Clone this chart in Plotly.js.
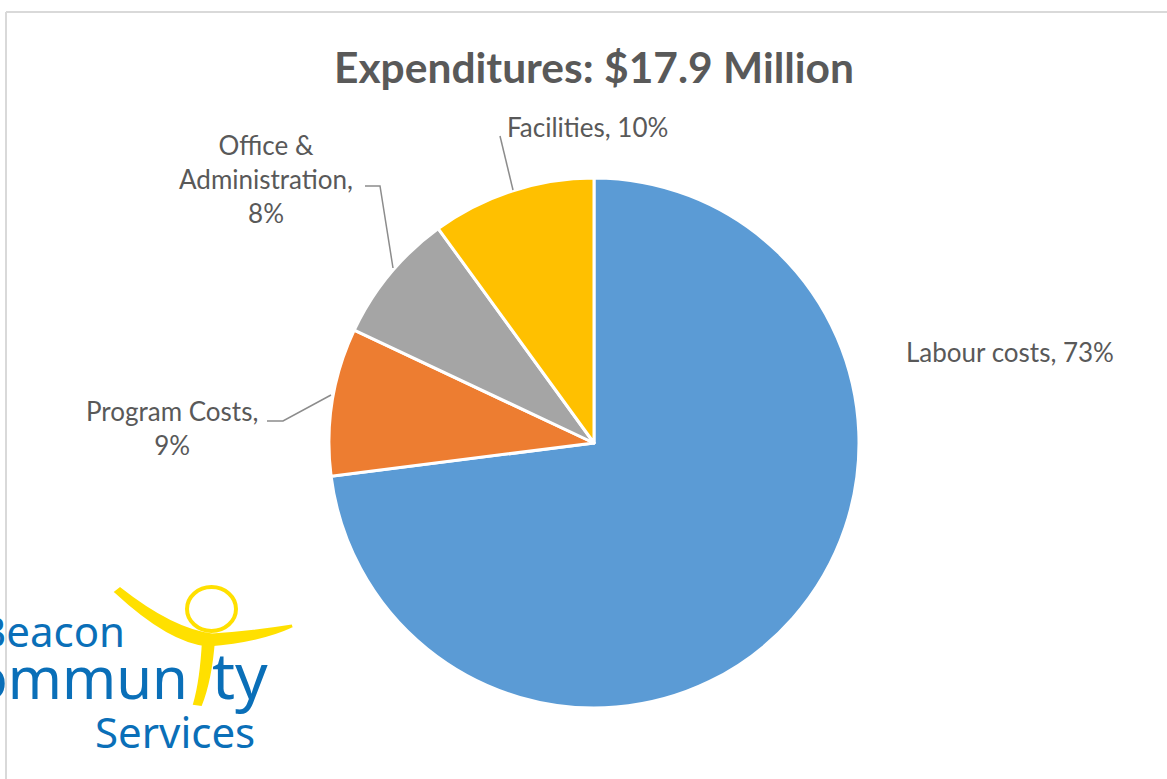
<!DOCTYPE html>
<html>
<head>
<meta charset="utf-8">
<script src="https://cdn.plot.ly/plotly-3.0.1.min.js"></script>
<style>html,body{margin:0;padding:0;background:#fff;}#chart{width:1167px;height:779px;}</style>
</head>
<body>
<div id="chart"></div>
<script>
// Data
const categories = ["Labour costs", "Program Costs", "Office & Administration", "Facilities"];
const shares = [73, 9, 8, 10];
const sliceColors = ["#5B9BD5", "#ED7D31", "#A5A5A5", "#FFC000"];
const labelTexts = ["Labour costs, 73%", "Program Costs,<br>9%", "Office &<br>Administration,<br>8%", "Facilities, 10%"];
const chartTitle = "Expenditures: $17.9 Million";

const W = 1167, H = 779;
const cx = 594, cy = 443, r = 265;
const fx = v => v / W;
const fy = v => 1 - v / H;

const labelFont = {family: "Lato, 'Open Sans', sans-serif", size: 26, color: "#595959"};
const logoBlue = "#0A6FB8";
const logoYellow = "#FFE000";

const trace = {
  type: "pie",
  labels: categories,
  values: shares,
  sort: false,
  direction: "clockwise",
  rotation: 0,
  textinfo: "none",
  hoverinfo: "label+percent",
  marker: {colors: sliceColors, line: {color: "#ffffff", width: 3}},
  domain: {x: [fx(cx - r), fx(cx + r)], y: [fy(cy + r), fy(cy - r)]},
  showlegend: false
};

// label placement (pixel positions)
const labelPos = [
  {x: 1010, y: 352},
  {x: 172, y: 428},
  {x: 266, y: 179},
  {x: 587, y: 127}
];

const annotations = categories.map((c, i) => ({
  xref: "x", yref: "y", x: labelPos[i].x, y: labelPos[i].y,
  text: labelTexts[i], showarrow: false, font: labelFont,
  align: "center", xanchor: "center", yanchor: "middle"
}));

// Logo text
const logoFont = "'Noto Sans', 'Open Sans', sans-serif";
annotations.push(
  {xref: "x", yref: "y", x: 127, y: 630, text: "Beacon", showarrow: false, xanchor: "right", yanchor: "middle",
   font: {family: logoFont, size: 42, color: logoBlue}},
  {xref: "x", yref: "y", x: 190, y: 676, text: "Commun", showarrow: false, xanchor: "right", yanchor: "middle",
   font: {family: logoFont, size: 58, color: logoBlue}},
  {xref: "x", yref: "y", x: 210, y: 674, text: "ty", showarrow: false, xanchor: "left", yanchor: "middle",
   font: {family: logoFont, size: 64, color: logoBlue}},
  {xref: "x", yref: "y", x: 175, y: 731, text: "Services", showarrow: false, xanchor: "center", yanchor: "middle",
   font: {family: logoFont, size: 42, color: logoBlue}}
);

const leader = {color: "#8C8C8C", width: 1.5};
const shapes = [
  // frame
  {type: "line", xref: "x", yref: "y", x0: 6, y0: 12, x1: 1167, y1: 12, line: {color: "#D9D9D9", width: 2}},
  {type: "line", xref: "x", yref: "y", x0: 6, y0: 12, x1: 6, y1: 779, line: {color: "#D9D9D9", width: 2}},
  // leader lines
  {type: "path", xref: "x", yref: "y", path: "M 267 421 L 283 421 L 331 395", line: leader},
  {type: "path", xref: "x", yref: "y", path: "M 365 186 L 380 186 L 393 268", line: leader},
  {type: "path", xref: "x", yref: "y", path: "M 500 136 L 513 190", line: leader},
  // logo figure
  {type: "path", xref: "x", yref: "y", layer: "above",
   path: "M 116 592 Q 170 642 208 645 Q 260 641 292 626 Q 255 632 212 635 Q 172 630 120 589 Z",
   fillcolor: logoYellow, line: {color: logoYellow, width: 3}},
  {type: "path", xref: "x", yref: "y", layer: "above",
   path: "M 203 640 Q 201 680 194 704 L 201 705 Q 211 680 214 640 Z",
   fillcolor: logoYellow, line: {color: logoYellow, width: 2}},
  {type: "circle", xref: "x", yref: "y", layer: "above", x0: 187, y0: 587, x1: 236, y1: 631,
   line: {color: logoYellow, width: 4}}
];

const layout = {
  width: W, height: H,
  margin: {l: 0, r: 0, t: 0, b: 0},
  paper_bgcolor: "#ffffff", plot_bgcolor: "rgba(0,0,0,0)",
  title: {text: "<b>" + chartTitle + "</b>", x: fx(594), xanchor: "center", y: fy(68), yanchor: "middle",
          font: {family: "Lato, 'Open Sans', sans-serif", size: 42.5, color: "#595959"}},
  xaxis: {range: [0, W], visible: false, fixedrange: true},
  yaxis: {range: [H, 0], visible: false, fixedrange: true},
  annotations: annotations,
  shapes: shapes,
  showlegend: false
};

Plotly.newPlot("chart", [trace], layout, {displayModeBar: false, staticPlot: true});
</script>
</body>
</html>
